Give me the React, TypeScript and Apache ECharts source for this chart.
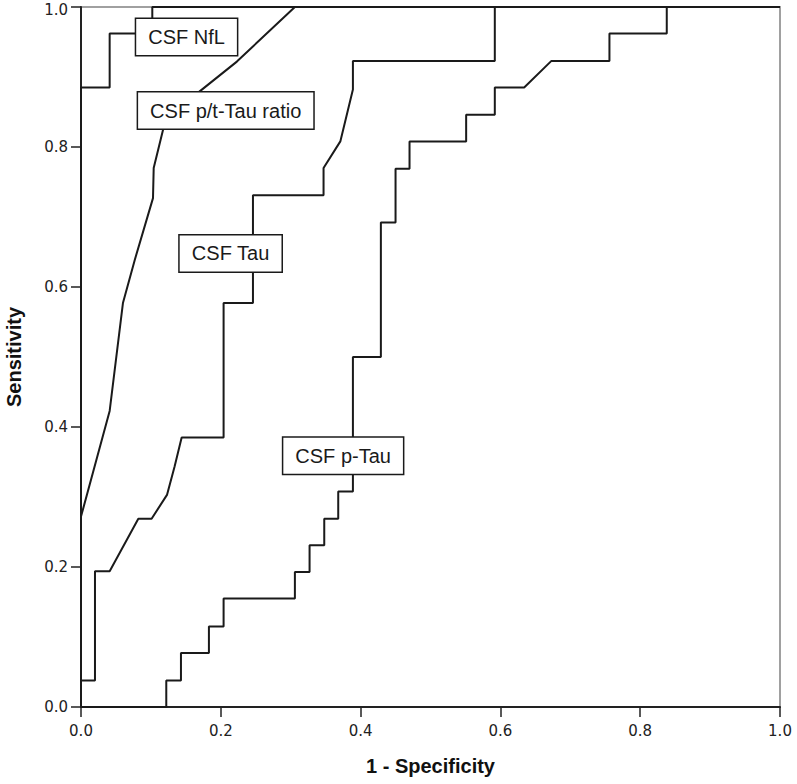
import React, { useEffect, useRef } from "react";
import * as echarts from "echarts";

// ROC curves: [1 - specificity, sensitivity]
const nflX = [0, 0, 0.041, 0.041, 0.102, 0.102, 1];
const nflY = [0, 0.885, 0.885, 0.962, 0.962, 1, 1];

const ratioX = [0, 0, 0.041, 0.06, 0.077, 0.103, 0.104, 0.118, 0.168, 0.223, 0.306, 1];
const ratioY = [0, 0.272, 0.423, 0.577, 0.639, 0.727, 0.77, 0.827, 0.878, 0.922, 1, 1];

const tauX = [0, 0, 0.02, 0.02, 0.041, 0.082, 0.101, 0.123, 0.134, 0.144, 0.204, 0.204, 0.246, 0.246, 0.347, 0.347, 0.371, 0.389, 0.389, 0.592, 0.592, 1];
const tauY = [0, 0.038, 0.038, 0.194, 0.194, 0.269, 0.269, 0.303, 0.344, 0.385, 0.385, 0.577, 0.577, 0.731, 0.731, 0.77, 0.808, 0.882, 0.923, 0.923, 1, 1];

const pTauX = [0, 0.122, 0.122, 0.143, 0.143, 0.183, 0.183, 0.204, 0.204, 0.306, 0.306, 0.327, 0.327, 0.348, 0.348, 0.368, 0.368, 0.389, 0.389, 0.429, 0.429, 0.45, 0.45, 0.47, 0.47, 0.551, 0.551, 0.592, 0.592, 0.634, 0.673, 0.756, 0.756, 0.838, 0.838, 1];
const pTauY = [0, 0, 0.038, 0.038, 0.077, 0.077, 0.115, 0.115, 0.155, 0.155, 0.193, 0.193, 0.231, 0.231, 0.269, 0.269, 0.308, 0.308, 0.5, 0.5, 0.692, 0.692, 0.769, 0.769, 0.808, 0.808, 0.846, 0.846, 0.885, 0.885, 0.923, 0.923, 0.962, 0.962, 1, 1];

// Curve labels (centre of each box in data units)
const labelText = ["CSF NfL", "CSF p/t-Tau ratio", "CSF Tau", "CSF p-Tau"];
const labelX = [0.151, 0.207, 0.214, 0.375];
const labelY = [0.957, 0.852, 0.648, 0.359];

const zip = (xs: number[], ys: number[]) => xs.map((x, i) => [x, ys[i]]);

export default function App() {
  const ref = useRef<HTMLDivElement>(null);
  useEffect(() => {
    if (!ref.current) return;
    const chart = echarts.init(ref.current, undefined, { renderer: "svg" });
    const lineStyle = { color: "#1a1a1a", width: 2 };
    const curve = (name: string, xs: number[], ys: number[]) => ({
      name,
      type: "line",
      data: zip(xs, ys),
      showSymbol: false,
      symbol: "none",
      clip: false,
      lineStyle,
      z: 3,
    });
    const labelFont = { color: "#222", fontFamily: "DejaVu Sans", fontSize: 15 };
    chart.setOption({
      animation: false,
      backgroundColor: "#ffffff",
      grid: {
        left: 81,
        right: 17,
        top: 7,
        bottom: 77,
        containLabel: false,
        outerBoundsMode: "none",
        show: true,
        borderColor: "#a0a0a0",
        borderWidth: 2,
        backgroundColor: "transparent",
      },
      xAxis: {
        type: "value",
        min: 0,
        max: 1,
        interval: 0.2,
        name: "1 - Specificity",
        nameLocation: "middle",
        nameGap: 49,
        nameTextStyle: { fontFamily: "Liberation Sans", fontWeight: "bold", fontSize: 20, color: "#111" },
        axisLine: { show: true, lineStyle: { color: "#222", width: 2 } },
        axisTick: { show: true, length: 10, lineStyle: { color: "#222", width: 1.5 } },
        axisLabel: { ...labelFont, margin: 16, formatter: (v: number) => v.toFixed(1) },
        splitLine: { show: false },
      },
      yAxis: {
        type: "value",
        min: 0,
        max: 1,
        interval: 0.2,
        name: "Sensitivity",
        nameLocation: "middle",
        nameGap: 57,
        nameTextStyle: { fontFamily: "Liberation Sans", fontWeight: "bold", fontSize: 20, color: "#111" },
        axisLine: { show: true, lineStyle: { color: "#222", width: 2 } },
        axisTick: { show: true, length: 10, lineStyle: { color: "#222", width: 1.5 } },
        axisLabel: {
          ...labelFont,
          margin: 13,
          formatter: (v: number) => (v >= 1 ? `{top|${v.toFixed(1)}}` : v.toFixed(1)),
          rich: { top: { ...labelFont, padding: [6, 0, 0, 0] } },
        },
        splitLine: { show: false },
      },
      series: [
        curve("CSF NfL", nflX, nflY),
        curve("CSF p/t-Tau ratio", ratioX, ratioY),
        curve("CSF Tau", tauX, tauY),
        curve("CSF p-Tau", pTauX, pTauY),
        {
          name: "labels",
          type: "scatter",
          z: 10,
          symbolSize: 1,
          itemStyle: { color: "rgba(255,255,255,0)", opacity: 1 },
          data: labelText.map((t, i) => ({ name: t, value: [labelX[i], labelY[i]] })),
          label: {
            show: true,
            position: "inside",
            formatter: (p: any) => p.name,
            fontFamily: "Liberation Sans",
            fontSize: 20,
            lineHeight: 20,
            color: "#1a1a1a",
            textBorderWidth: 0,
            backgroundColor: "#ffffff",
            borderColor: "#1a1a1a",
            borderWidth: 1.5,
            padding: [8, 12],
          },
          emphasis: { disabled: true },
        },
      ],
    });
    return () => chart.dispose();
  }, []);
  return (
    <div
      ref={ref}
      style={{ position: "fixed", left: 0, top: 0, width: 797, height: 784, background: "#fff" }}
    />
  );
}
